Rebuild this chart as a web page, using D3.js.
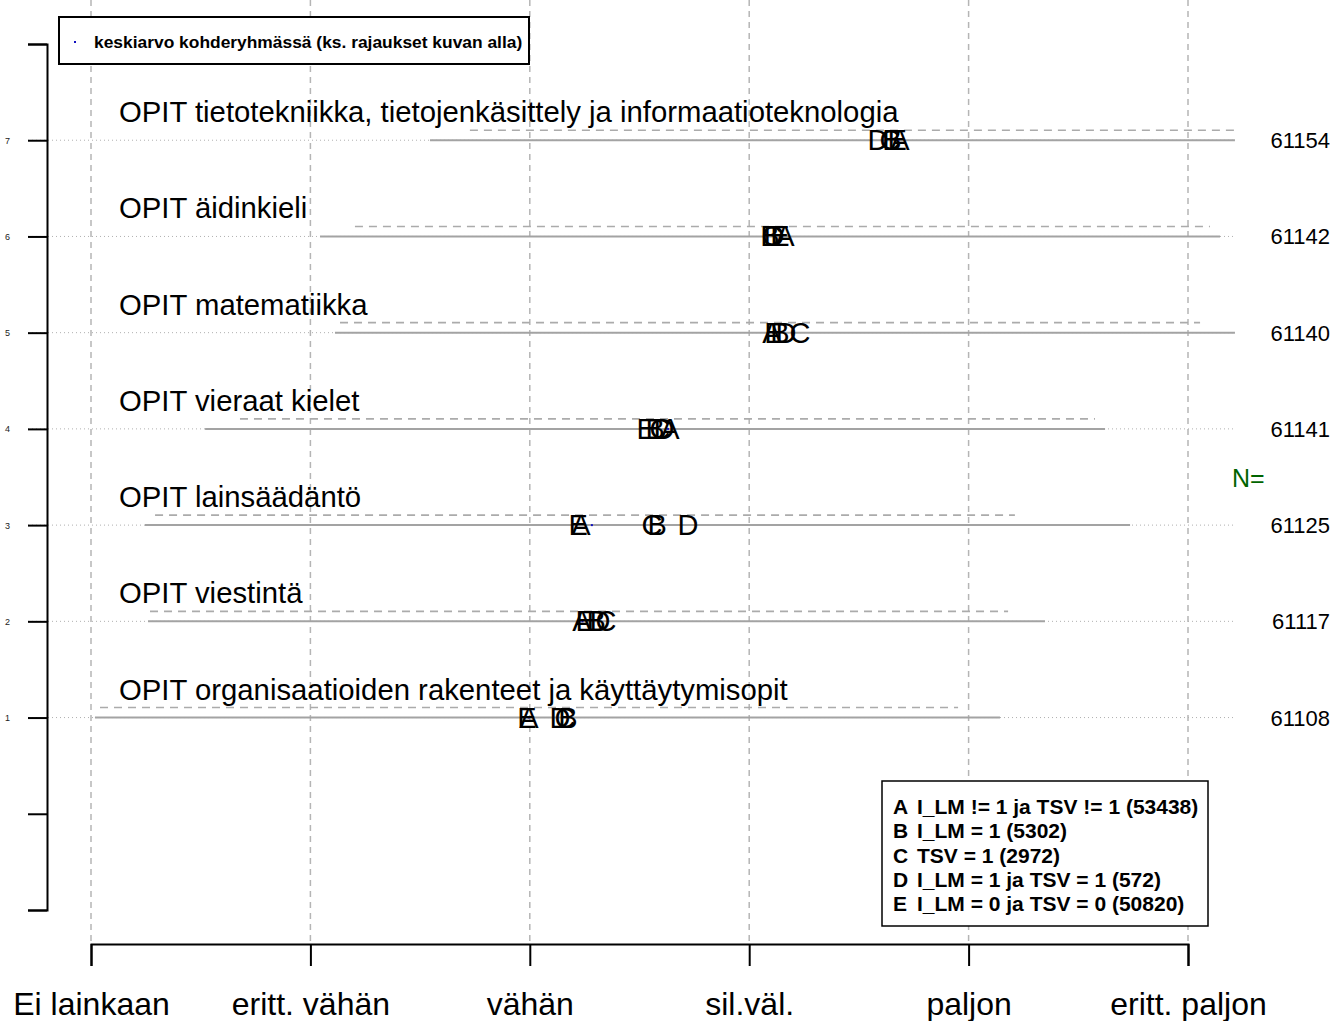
<!DOCTYPE html>
<html><head><meta charset="utf-8">
<script src="https://cdn.jsdelivr.net/npm/d3@7"></script>
<style>body{margin:0;background:#fff}svg{display:block;font-family:"Liberation Sans",Arial,sans-serif}</style>
</head><body>
<svg id="c" width="1344" height="1021"></svg>
<script>
// ---- data ----
const rowPos = [7, 6, 5, 4, 3, 2, 1];
const categories = [
  "OPIT tietotekniikka, tietojenkäsittely ja informaatioteknologia",
  "OPIT äidinkieli",
  "OPIT matematiikka",
  "OPIT vieraat kielet",
  "OPIT lainsäädäntö",
  "OPIT viestintä",
  "OPIT organisaatioiden rakenteet ja käyttäytymisopit"
];
const nValues = [61154, 61142, 61140, 61141, 61125, 61117, 61108];
const meanA = [4.687, 4.163, 4.104, 3.639, 3.233, 3.238, 2.996];
const meanB = [4.651, 4.095, 4.140, 3.571, 3.580, 3.302, 3.174];
const meanC = [4.642, 4.104, 4.232, 3.593, 3.557, 3.347, 3.160];
const meanD = [4.587, 4.113, 4.168, 3.612, 3.721, 3.320, 3.138];
const meanE = [4.674, 4.140, 4.113, 3.530, 3.220, 3.252, 2.987];
const targetMean = [4.680, 4.150, 4.110, 3.630, 3.283, 3.240, 2.995];
const rangeLo = [2.545, 2.044, 2.112, 1.520, 1.246, 1.260, 1.018];
const rangeHi = [6.214, 6.146, 6.214, 5.622, 5.736, 5.348, 5.143];
const dashLo = [2.727, 2.203, 2.135, 1.679, 1.292, 1.269, 1.041];
const dashHi = [6.214, 6.100, 6.055, 5.576, 5.211, 5.180, 4.952];
const xTickLabels = ["Ei lainkaan", "eritt. vähän", "vähän", "sil.väl.", "paljon", "eritt. paljon"];
const groupLetters = ["A", "B", "C", "D", "E"];
const groupLegend = [
  "I_LM != 1 ja TSV != 1 (53438)",
  "I_LM = 1 (5302)",
  "TSV = 1 (2972)",
  "I_LM = 1 ja TSV = 1 (572)",
  "I_LM = 0 ja TSV = 0 (50820)"
];
const topLegendText = "keskiarvo kohderyhmässä (ks. rajaukset kuvan alla)";

// ---- drawing ----
const svg = d3.select("#c");
const x = d3.scaleLinear().domain([1, 6]).range([91, 1188]);
const y = d3.scaleLinear().domain([-1, 8]).range([910, 44]);
const means = [meanA, meanB, meanC, meanD, meanE];

// vertical grid
svg.append("g").selectAll("line").data(d3.range(1, 7)).join("line")
  .attr("x1", d => x(d)).attr("x2", d => x(d))
  .attr("y1", 0).attr("y2", 944)
  .attr("stroke", "#b5b5b5").attr("stroke-width", 1.5)
  .attr("stroke-dasharray", "6,5");

const rows = rowPos.map((p, i) => ({p, i}));
const rg = svg.append("g");
// dotted full-width lines
rg.selectAll(".dot").data(rows).join("line")
  .attr("x1", 28).attr("x2", x(6.214))
  .attr("y1", d => y(d.p)).attr("y2", d => y(d.p))
  .attr("stroke", "#b0b0b0").attr("stroke-width", 1).attr("stroke-dasharray", "1,3");
// main range lines
rg.selectAll(".rng").data(rows).join("line")
  .attr("x1", d => x(rangeLo[d.i])).attr("x2", d => x(rangeHi[d.i]))
  .attr("y1", d => y(d.p)).attr("y2", d => y(d.p))
  .attr("stroke", "#a3a3a3").attr("stroke-width", 2);
// dashed lines above
rg.selectAll(".dsh").data(rows).join("line")
  .attr("x1", d => x(dashLo[d.i])).attr("x2", d => x(dashHi[d.i]))
  .attr("y1", d => y(d.p) - 10).attr("y2", d => y(d.p) - 10)
  .attr("stroke", "#ababab").attr("stroke-width", 1.6).attr("stroke-dasharray", "8,6");

// row labels
rg.selectAll(".lab").data(rows).join("text")
  .attr("x", 119).attr("y", d => y(d.p) - 18)
  .attr("font-size", 29.3).attr("fill", "#000")
  .text(d => categories[d.i]);

// target mean dots
rg.selectAll(".tm").data(rows).join("rect")
  .attr("x", d => x(targetMean[d.i]) - 1).attr("y", d => y(d.p) - 1)
  .attr("width", 2).attr("height", 2).attr("fill", "#1010c0");

// group letters
groupLetters.forEach((L, g) => {
  rg.selectAll(".g" + L).data(rows).join("text")
    .attr("x", d => x(means[g][d.i])).attr("y", d => y(d.p) + 10)
    .attr("text-anchor", "middle").attr("font-size", 29).attr("fill", "#000")
    .text(L);
});

// N values
rg.selectAll(".n").data(rows).join("text")
  .attr("x", 1330).attr("y", d => y(d.p) + 8)
  .attr("text-anchor", "end").attr("font-size", 22).text(d => nValues[d.i]);
svg.append("text").attr("x", 1232).attr("y", 487).attr("font-size", 25)
  .attr("fill", "#006400").text("N=");

// left axis
const ya = svg.append("g").attr("transform", "translate(47,0)")
  .call(d3.axisLeft(y).tickValues(d3.range(-1, 9)).tickSizeOuter(0).tickSize(19).tickPadding(18)
    .tickFormat(d => (d >= 1 && d <= 7) ? d : ""));
ya.select(".domain").attr("stroke-width", 2);
ya.selectAll(".tick line").attr("stroke-width", 2);
ya.selectAll(".tick text").attr("font-size", 9).attr("font-family", "Liberation Sans, Arial, sans-serif").attr("fill", "#222");

// bottom axis
const xa = svg.append("g").attr("transform", "translate(0,944)")
  .call(d3.axisBottom(x).tickValues(d3.range(1, 7)).tickSizeOuter(0).tickSize(22).tickPadding(26)
    .tickFormat(d => xTickLabels[d - 1]));
xa.select(".domain").attr("stroke-width", 2);
xa.selectAll(".tick line").attr("stroke-width", 2);
xa.selectAll(".tick text").attr("font-size", 32).attr("font-family", "Liberation Sans, Arial, sans-serif").attr("fill", "#000");

// top legend
svg.append("rect").attr("x", 59).attr("y", 17).attr("width", 470).attr("height", 47)
  .attr("fill", "#fff").attr("stroke", "#000").attr("stroke-width", 2);
svg.append("rect").attr("x", 74).attr("y", 41).attr("width", 2).attr("height", 2).attr("fill", "#1010c0");
svg.append("text").attr("x", 94).attr("y", 48).attr("font-size", 17.4).attr("font-weight", "bold")
  .text(topLegendText);

// bottom legend
svg.append("rect").attr("x", 882).attr("y", 781).attr("width", 326).attr("height", 145)
  .attr("fill", "#fff").attr("stroke", "#000").attr("stroke-width", 1.5);
const lg = svg.append("g").selectAll("g").data(groupLetters).join("g")
  .attr("transform", (d, i) => `translate(0,${814 + i * 24.3})`);
lg.append("text").attr("x", 893).attr("font-size", 21).attr("font-weight", "bold").text(d => d);
lg.append("text").attr("x", 917).attr("font-size", 21).attr("font-weight", "bold").text((d, i) => groupLegend[i]);
</script>
</body></html>
